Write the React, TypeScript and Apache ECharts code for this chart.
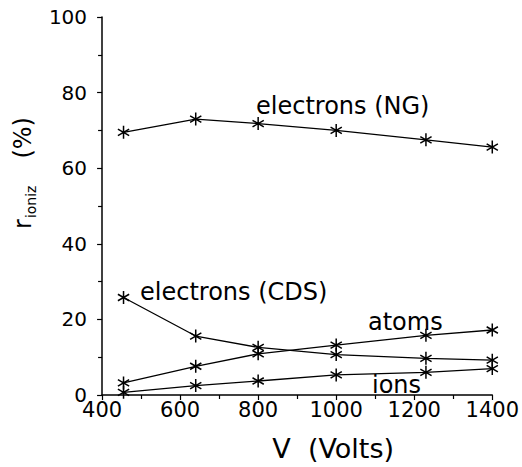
import React, { useEffect, useRef } from "react";
import * as echarts from "echarts";

// Data
const voltages = [455, 640, 800, 1000, 1230, 1400];
const electronsNG = [69.5, 73.0, 71.8, 70.0, 67.5, 65.6];
const electronsCDS = [25.8, 15.6, 12.6, 10.7, 9.7, 9.2];
const atoms = [3.2, 7.6, 10.9, 13.2, 15.8, 17.2];
const ions = [0.7, 2.5, 3.7, 5.3, 6.0, 7.0];

const seriesNames = ["electrons (NG)", "electrons (CDS)", "atoms", "ions"];
const xTitle = "V  (Volts)";
const yTitle = "{r|r}{s|ioniz}{p|(%)}";

const FONT = "DejaVu Sans";
const STAR = "path://M0 -10 L0 10 M-8.66 -5 L8.66 5 M-8.66 5 L8.66 -5";

export default function App() {
  const ref = useRef<HTMLDivElement | null>(null);
  useEffect(() => {
    if (!ref.current) return;
    const chart = echarts.init(ref.current, undefined, { renderer: "svg" });
    const mk = (name: string, vals: number[]) => ({
      name,
      type: "line",
      data: voltages.map((v, i) => [v, vals[i]]),
      symbol: STAR,
      symbolSize: 13,
      symbolKeepAspect: true,
      showAllSymbol: true,
      lineStyle: { color: "#000", width: 1.3 },
      itemStyle: { color: "none", borderColor: "#000", borderWidth: 1.5 },
      emphasis: { disabled: true },
    });
    const txt = (text: string, x: number, y: number, size: number) => ({
      type: "text",
      x,
      y,
      style: { text, font: `${size}px "${FONT}"`, fill: "#000", verticalAlign: "middle", align: "left" },
    });
    chart.setOption({
      animation: false,
      backgroundColor: "#fff",
      textStyle: { fontFamily: FONT },
      grid: { left: 100, right: 29, top: 17, bottom: 71 },
      xAxis: {
        type: "value",
        min: 400,
        max: 1400,
        interval: 200,
        name: xTitle,
        nameLocation: "middle",
        nameGap: 40,
        nameTextStyle: { fontFamily: FONT, fontSize: 27, color: "#000", padding: [0, 0, 0, 72] },
        axisLine: { lineStyle: { color: "#000", width: 1.5 } },
        axisTick: { show: true, length: 5, lineStyle: { color: "#000", width: 1.2 } },
        minorTick: { show: true, splitNumber: 2, length: 4, lineStyle: { color: "#000", width: 1.2 } },
        axisLabel: {
          color: "#000",
          fontFamily: FONT,
          fontSize: 21,
          margin: 4,
          formatter: (v: number) => String(v),
        },
        splitLine: { show: false },
      },
      yAxis: {
        type: "value",
        min: 0,
        max: 100,
        interval: 20,
        name: yTitle,
        nameLocation: "middle",
        nameRotate: 90,
        nameGap: 58,
        nameTextStyle: {
          color: "#000",
          fontFamily: FONT,
          padding: [0, 0, 0, 66],
          rich: {
            r: { fontFamily: FONT, fontSize: 24, color: "#000", lineHeight: 30 },
            s: { fontFamily: FONT, fontSize: 14, color: "#000", lineHeight: 14, padding: [16, 0, 0, 1] },
            p: { fontFamily: FONT, fontSize: 24, color: "#000", lineHeight: 30, padding: [0, 0, 0, 27] },
          },
        },
        axisLine: { show: true, lineStyle: { color: "#000", width: 1.5 } },
        axisTick: { show: true, length: 5, lineStyle: { color: "#000", width: 1.2 } },
        minorTick: { show: true, splitNumber: 2, length: 4, lineStyle: { color: "#000", width: 1.2 } },
        axisLabel: { color: "#000", fontFamily: FONT, fontSize: 20, margin: 15 },
        splitLine: { show: false },
      },
      series: [
        mk(seriesNames[0], electronsNG),
        mk(seriesNames[1], electronsCDS),
        mk(seriesNames[2], atoms),
        mk(seriesNames[3], ions),
      ],
      graphic: [
        txt(seriesNames[0], 256, 106, 24),
        txt(seriesNames[1], 140, 292, 24),
        txt(seriesNames[2], 368, 322, 24),
        txt(seriesNames[3], 372, 385, 24),
      ],
    });
    return () => chart.dispose();
  }, []);
  return (
    <div
      ref={ref}
      style={{ position: "absolute", left: 0, top: 0, width: 522, height: 467 }}
    />
  );
}
